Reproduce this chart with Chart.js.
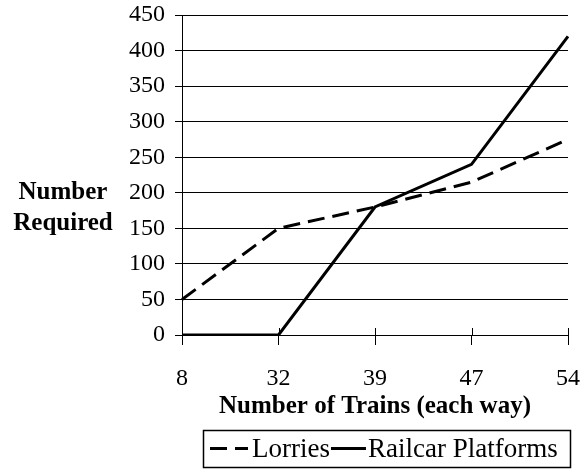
<!DOCTYPE html>
<html>
<head>
<meta charset="utf-8">
<script src="https://cdn.jsdelivr.net/npm/chart.js@4.4.0/dist/chart.umd.min.js"></script>
<style>
  html, body { margin: 0; padding: 0; background: #fff; }
  #wrap { width: 585px; height: 470px; }
</style>
</head>
<body>
<div id="wrap"><canvas id="myChart" width="585" height="470"></canvas></div>
<script>
// dados
const trens = ['8', '32', '39', '47', '54'];
const lorries = [50, 150, 180, 215, 275];
const railcar = [0, 0, 180, 240, 420];
const yTicks = [0, 50, 100, 150, 200, 250, 300, 350, 400, 450];

const fonte = '"Liberation Serif", "Times New Roman", serif';

// títulos dos eixos, traços internos e legenda com moldura
const extras = {
    id: 'extras',
    afterDraw(chart) {
        const ctx = chart.ctx;
        const area = chart.chartArea;
        const xs = chart.scales.x;
        ctx.save();
        ctx.fillStyle = '#000';
        ctx.strokeStyle = '#000';

        // traços do eixo x para dentro
        ctx.lineWidth = 1;
        trens.forEach((t, i) => {
            const x = Math.round(xs.getPixelForValue(i)) + 0.5;
            ctx.beginPath();
            ctx.moveTo(x, area.bottom - 7);
            ctx.lineTo(x, area.bottom);
            ctx.stroke();
        });

        // título y (horizontal, duas linhas)
        ctx.font = 'bold 25px ' + fonte;
        ctx.textAlign = 'center';
        ctx.textBaseline = 'middle';
        ctx.fillText('Number', 63, 193);
        ctx.fillText('Required', 63, 224);

        // título x
        ctx.fillText('Number of Trains (each way)', (area.left + area.right) / 2, 407);

        // legenda
        const top = 430, bottom = 467, left = 203, right = 570;
        const meio = (top + bottom) / 2;
        ctx.lineWidth = 1.5;
        ctx.strokeRect(left + 0.5, top + 0.5, right - left, bottom - top);
        ctx.font = '27px ' + fonte;
        ctx.textAlign = 'left';

        ctx.lineWidth = 3;
        ctx.setLineDash([17, 8]);
        ctx.beginPath();
        ctx.moveTo(210, meio);
        ctx.lineTo(248, meio);
        ctx.stroke();
        ctx.setLineDash([]);
        ctx.fillText('Lorries', 252, meio + 1);

        const x2 = 252 + ctx.measureText('Lorries').width;
        ctx.beginPath();
        ctx.moveTo(x2 + 1, meio);
        ctx.lineTo(x2 + 36, meio);
        ctx.stroke();
        ctx.fillText('Railcar Platforms', x2 + 38, meio + 1);
        ctx.restore();
    }
};

const ctx = document.getElementById('myChart').getContext('2d');
const myChart = new Chart(ctx, {
    type: 'line',
    data: {
        labels: trens,
        datasets: [{
            label: 'Lorries',
            data: lorries,
            borderColor: '#000',
            borderWidth: 3,
            borderDash: [17, 8],
            pointRadius: 0,
            tension: 0
        }, {
            label: 'Railcar Platforms',
            data: railcar,
            borderColor: '#000',
            borderWidth: 3,
            pointRadius: 0,
            tension: 0
        }]
    },
    options: {
        responsive: false,
        animation: false,
        layout: {
            padding: { top: 15, right: 17, bottom: 0, left: 0 }
        },
        plugins: {
            legend: { display: false },
            tooltip: { enabled: false }
        },
        scales: {
            x: {
                type: 'category',
                offset: false,
                afterFit: (scale) => {
                    scale.height = 135;
                    scale.paddingLeft = 0;
                    scale.paddingRight = 0;
                },
                grid: {
                    drawOnChartArea: false,
                    drawTicks: true,
                    tickLength: 10,
                    color: '#000'
                },
                border: { color: '#000', width: 1 },
                ticks: {
                    color: '#000',
                    padding: 19,
                    maxRotation: 0,
                    font: { family: fonte, size: 24 }
                }
            },
            y: {
                min: 0,
                max: 450,
                afterFit: (scale) => {
                    scale.width = 182;
                    scale.paddingTop = 0;
                    scale.paddingBottom = 0;
                },
                afterBuildTicks: (scale) => {
                    scale.ticks = yTicks.map(v => ({ value: v }));
                },
                grid: {
                    color: '#000',
                    lineWidth: 1,
                    tickLength: 7
                },
                border: { color: '#000', width: 1 },
                ticks: {
                    color: '#000',
                    padding: 10,
                    font: { family: fonte, size: 24 }
                }
            }
        }
    },
    plugins: [extras]
});
</script>
</body>
</html>
